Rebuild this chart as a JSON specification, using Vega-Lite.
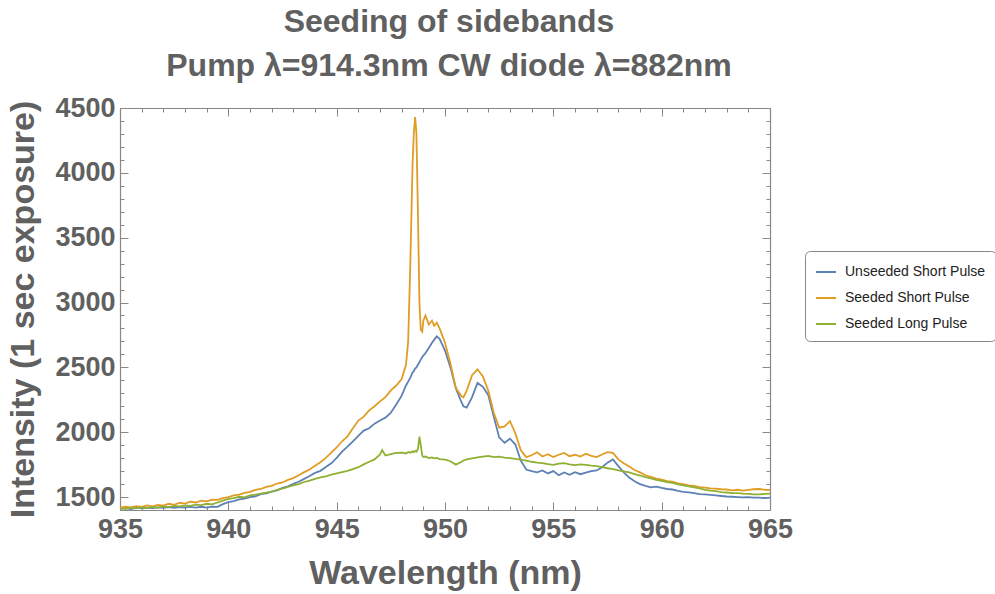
{
  "$schema": "https://vega.github.io/schema/vega-lite/v6.json",
  "width": 650,
  "height": 402,
  "autosize": "none",
  "padding": {"left": 120, "top": 108, "right": 225, "bottom": 84},
  "background": "white",
  "config": {"view": {"stroke": null}},
  "title": {
    "text": ["Seeding of sidebands", "Pump λ=914.3nm CW diode λ=882nm"],
    "font": "Liberation Sans",
    "fontSize": 32,
    "fontWeight": "bold",
    "color": "#606060",
    "lineHeight": 44,
    "anchor": "middle",
    "dx": 4,
    "offset": 11
  },
  "data": {
    "values": [
      {"wl": 935.00, "U": 1410, "S": 1418, "L": 1412},
      {"wl": 935.25, "U": 1415, "S": 1425, "L": 1408},
      {"wl": 935.50, "U": 1408, "S": 1420, "L": 1416},
      {"wl": 935.75, "U": 1416, "S": 1430, "L": 1412},
      {"wl": 936.00, "U": 1412, "S": 1424, "L": 1420},
      {"wl": 936.25, "U": 1418, "S": 1435, "L": 1415},
      {"wl": 936.50, "U": 1414, "S": 1428, "L": 1424},
      {"wl": 936.75, "U": 1420, "S": 1440, "L": 1419},
      {"wl": 937.00, "U": 1416, "S": 1434, "L": 1428},
      {"wl": 937.25, "U": 1422, "S": 1448, "L": 1422},
      {"wl": 937.50, "U": 1417, "S": 1440, "L": 1432},
      {"wl": 937.75, "U": 1423, "S": 1456, "L": 1428},
      {"wl": 938.00, "U": 1418, "S": 1450, "L": 1436},
      {"wl": 938.25, "U": 1424, "S": 1464, "L": 1432},
      {"wl": 938.50, "U": 1419, "S": 1458, "L": 1442},
      {"wl": 938.75, "U": 1425, "S": 1472, "L": 1438},
      {"wl": 939.00, "U": 1418, "S": 1466, "L": 1448},
      {"wl": 939.25, "U": 1426, "S": 1480, "L": 1444},
      {"wl": 939.50, "U": 1424, "S": 1478, "L": 1458},
      {"wl": 939.75, "U": 1445, "S": 1492, "L": 1472},
      {"wl": 940.00, "U": 1460, "S": 1500, "L": 1486},
      {"wl": 940.25, "U": 1468, "S": 1512, "L": 1492},
      {"wl": 940.50, "U": 1482, "S": 1518, "L": 1502},
      {"wl": 940.75, "U": 1488, "S": 1532, "L": 1498},
      {"wl": 941.00, "U": 1500, "S": 1540, "L": 1512},
      {"wl": 941.25, "U": 1506, "S": 1555, "L": 1518},
      {"wl": 941.50, "U": 1522, "S": 1562, "L": 1526},
      {"wl": 941.75, "U": 1528, "S": 1578, "L": 1534},
      {"wl": 942.00, "U": 1542, "S": 1586, "L": 1542},
      {"wl": 942.25, "U": 1552, "S": 1604, "L": 1556},
      {"wl": 942.50, "U": 1570, "S": 1612, "L": 1564},
      {"wl": 942.75, "U": 1582, "S": 1632, "L": 1578},
      {"wl": 943.00, "U": 1602, "S": 1646, "L": 1590},
      {"wl": 943.25, "U": 1618, "S": 1668, "L": 1600},
      {"wl": 943.50, "U": 1640, "S": 1692, "L": 1616},
      {"wl": 943.75, "U": 1662, "S": 1712, "L": 1626},
      {"wl": 944.00, "U": 1686, "S": 1742, "L": 1640},
      {"wl": 944.25, "U": 1702, "S": 1768, "L": 1652},
      {"wl": 944.50, "U": 1732, "S": 1802, "L": 1660},
      {"wl": 944.75, "U": 1760, "S": 1842, "L": 1672},
      {"wl": 945.00, "U": 1802, "S": 1882, "L": 1682},
      {"wl": 945.25, "U": 1850, "S": 1930, "L": 1692},
      {"wl": 945.50, "U": 1888, "S": 1968, "L": 1702},
      {"wl": 945.75, "U": 1930, "S": 2030, "L": 1716},
      {"wl": 946.00, "U": 1972, "S": 2090, "L": 1730},
      {"wl": 946.25, "U": 2012, "S": 2120, "L": 1752},
      {"wl": 946.50, "U": 2030, "S": 2168, "L": 1772},
      {"wl": 946.75, "U": 2066, "S": 2200, "L": 1790},
      {"wl": 947.00, "U": 2090, "S": 2238, "L": 1828},
      {"wl": 947.10, "U": 2100, "S": 2250, "L": 1862},
      {"wl": 947.25, "U": 2112, "S": 2270, "L": 1820},
      {"wl": 947.50, "U": 2150, "S": 2322, "L": 1830},
      {"wl": 947.75, "U": 2214, "S": 2360, "L": 1840},
      {"wl": 948.00, "U": 2282, "S": 2410, "L": 1842},
      {"wl": 948.20, "U": 2360, "S": 2520, "L": 1836},
      {"wl": 948.30, "U": 2390, "S": 2700, "L": 1848},
      {"wl": 948.40, "U": 2420, "S": 3300, "L": 1842},
      {"wl": 948.50, "U": 2460, "S": 4050, "L": 1852},
      {"wl": 948.56, "U": 2470, "S": 4300, "L": 1846},
      {"wl": 948.62, "U": 2490, "S": 4430, "L": 1856},
      {"wl": 948.68, "U": 2500, "S": 4310, "L": 1850},
      {"wl": 948.75, "U": 2520, "S": 3700, "L": 1870},
      {"wl": 948.82, "U": 2540, "S": 3000, "L": 1966},
      {"wl": 948.88, "U": 2560, "S": 2790, "L": 1900},
      {"wl": 948.95, "U": 2580, "S": 2775, "L": 1820},
      {"wl": 949.00, "U": 2590, "S": 2860, "L": 1808},
      {"wl": 949.10, "U": 2610, "S": 2900, "L": 1812},
      {"wl": 949.25, "U": 2650, "S": 2830, "L": 1800},
      {"wl": 949.40, "U": 2690, "S": 2860, "L": 1806},
      {"wl": 949.50, "U": 2712, "S": 2820, "L": 1798},
      {"wl": 949.62, "U": 2740, "S": 2845, "L": 1802},
      {"wl": 949.75, "U": 2720, "S": 2800, "L": 1792},
      {"wl": 950.00, "U": 2630, "S": 2690, "L": 1788},
      {"wl": 950.25, "U": 2500, "S": 2530, "L": 1776},
      {"wl": 950.50, "U": 2340, "S": 2340, "L": 1750},
      {"wl": 950.75, "U": 2235, "S": 2280, "L": 1770},
      {"wl": 950.85, "U": 2200, "S": 2268, "L": 1782},
      {"wl": 951.00, "U": 2190, "S": 2320, "L": 1790},
      {"wl": 951.25, "U": 2270, "S": 2440, "L": 1798},
      {"wl": 951.50, "U": 2380, "S": 2485, "L": 1806},
      {"wl": 951.75, "U": 2350, "S": 2430, "L": 1812},
      {"wl": 952.00, "U": 2285, "S": 2320, "L": 1818},
      {"wl": 952.25, "U": 2120, "S": 2150, "L": 1808},
      {"wl": 952.50, "U": 1960, "S": 2035, "L": 1812},
      {"wl": 952.75, "U": 1918, "S": 2045, "L": 1804},
      {"wl": 953.00, "U": 1950, "S": 2085, "L": 1800},
      {"wl": 953.25, "U": 1905, "S": 1990, "L": 1795},
      {"wl": 953.50, "U": 1780, "S": 1860, "L": 1788},
      {"wl": 953.75, "U": 1712, "S": 1808, "L": 1780},
      {"wl": 954.00, "U": 1700, "S": 1822, "L": 1772},
      {"wl": 954.25, "U": 1690, "S": 1845, "L": 1766},
      {"wl": 954.50, "U": 1705, "S": 1812, "L": 1762},
      {"wl": 954.75, "U": 1682, "S": 1830, "L": 1754},
      {"wl": 955.00, "U": 1700, "S": 1808, "L": 1748},
      {"wl": 955.25, "U": 1668, "S": 1826, "L": 1758},
      {"wl": 955.50, "U": 1690, "S": 1840, "L": 1762},
      {"wl": 955.75, "U": 1672, "S": 1815, "L": 1752},
      {"wl": 956.00, "U": 1692, "S": 1826, "L": 1746},
      {"wl": 956.25, "U": 1676, "S": 1812, "L": 1752},
      {"wl": 956.50, "U": 1688, "S": 1834, "L": 1748},
      {"wl": 956.75, "U": 1700, "S": 1818, "L": 1742},
      {"wl": 957.00, "U": 1705, "S": 1808, "L": 1738},
      {"wl": 957.25, "U": 1730, "S": 1828, "L": 1730},
      {"wl": 957.50, "U": 1765, "S": 1846, "L": 1722},
      {"wl": 957.75, "U": 1790, "S": 1840, "L": 1716},
      {"wl": 958.00, "U": 1738, "S": 1790, "L": 1706},
      {"wl": 958.25, "U": 1690, "S": 1760, "L": 1698},
      {"wl": 958.50, "U": 1650, "S": 1735, "L": 1690},
      {"wl": 958.75, "U": 1622, "S": 1708, "L": 1676},
      {"wl": 959.00, "U": 1600, "S": 1690, "L": 1666},
      {"wl": 959.25, "U": 1586, "S": 1668, "L": 1654},
      {"wl": 959.50, "U": 1575, "S": 1656, "L": 1644},
      {"wl": 959.75, "U": 1580, "S": 1642, "L": 1632},
      {"wl": 960.00, "U": 1570, "S": 1635, "L": 1624},
      {"wl": 960.25, "U": 1562, "S": 1622, "L": 1616},
      {"wl": 960.50, "U": 1558, "S": 1618, "L": 1610},
      {"wl": 960.75, "U": 1548, "S": 1606, "L": 1598},
      {"wl": 961.00, "U": 1540, "S": 1600, "L": 1590},
      {"wl": 961.25, "U": 1536, "S": 1590, "L": 1582},
      {"wl": 961.50, "U": 1530, "S": 1586, "L": 1574},
      {"wl": 961.75, "U": 1522, "S": 1576, "L": 1566},
      {"wl": 962.00, "U": 1520, "S": 1572, "L": 1556},
      {"wl": 962.25, "U": 1516, "S": 1566, "L": 1550},
      {"wl": 962.50, "U": 1512, "S": 1565, "L": 1546},
      {"wl": 962.75, "U": 1508, "S": 1560, "L": 1538},
      {"wl": 963.00, "U": 1504, "S": 1558, "L": 1535},
      {"wl": 963.25, "U": 1502, "S": 1552, "L": 1530},
      {"wl": 963.50, "U": 1500, "S": 1556, "L": 1530},
      {"wl": 963.75, "U": 1498, "S": 1550, "L": 1526},
      {"wl": 964.00, "U": 1500, "S": 1556, "L": 1524},
      {"wl": 964.25, "U": 1496, "S": 1560, "L": 1520},
      {"wl": 964.50, "U": 1495, "S": 1562, "L": 1520},
      {"wl": 964.75, "U": 1492, "S": 1556, "L": 1524},
      {"wl": 965.00, "U": 1496, "S": 1554, "L": 1526}
    ]
  },
  "transform": [{"fold": ["U", "S", "L"], "as": ["series", "intensity"]}],
  "layer": [
    {
      "mark": {"type": "line", "strokeWidth": 1.8, "clip": true},
      "encoding": {
        "x": {
          "field": "wl", "type": "quantitative",
          "scale": {"domain": [935, 965], "nice": false, "zero": false},
          "axis": {
            "orient": "bottom",
            "values": [935,936,937,938,939,940,941,942,943,944,945,946,947,948,949,950,951,952,953,954,955,956,957,958,959,960,961,962,963,964,965],
            "labelExpr": "datum.value % 5 === 0 ? datum.label : ''",
            "tickSize": {"condition": {"test": "datum.value % 5 === 0", "value": -8}, "value": -4},
            "tickColor": "#888888", "domainColor": "#888888", "domainWidth": 1.2,
            "grid": false,
            "labelFont": "Liberation Sans", "labelFontSize": 27, "labelFontWeight": "bold", "labelColor": "#606060",
            "labelPadding": 14, "labelFlush": false, "labelOverlap": false,
            "title": "Wavelength (nm)",
            "titleFont": "Liberation Sans", "titleFontSize": 34, "titleFontWeight": "bold", "titleColor": "#606060",
            "titlePadding": 10
          }
        },
        "y": {
          "field": "intensity", "type": "quantitative",
          "scale": {"domain": [1400, 4500], "nice": false, "zero": false},
          "axis": {
            "orient": "left",
            "values": [1400,1500,1600,1700,1800,1900,2000,2100,2200,2300,2400,2500,2600,2700,2800,2900,3000,3100,3200,3300,3400,3500,3600,3700,3800,3900,4000,4100,4200,4300,4400,4500],
            "labelExpr": "datum.value % 500 === 0 ? datum.label : ''",
            "format": "d",
            "tickSize": {"condition": {"test": "datum.value % 500 === 0", "value": -8}, "value": -4},
            "tickColor": "#888888", "domainColor": "#888888", "domainWidth": 1.2,
            "grid": false,
            "labelFont": "Liberation Sans", "labelFontSize": 27, "labelFontWeight": "bold", "labelColor": "#606060",
            "labelPadding": 13, "labelFlush": false, "labelOverlap": false,
            "title": "Intensity (1 sec exposure)",
            "titleFont": "Liberation Sans", "titleFontSize": 34, "titleFontWeight": "bold", "titleColor": "#606060",
            "titlePadding": 14
          }
        },
        "color": {
          "field": "series", "type": "nominal",
          "scale": {"domain": ["U", "S", "L"], "range": ["#5E81B5", "#E19C24", "#8FB032"]},
          "legend": {
            "orient": "none", "legendX": 685, "legendY": 143,
            "title": null,
            "labelExpr": "datum.label === 'U' ? 'Unseeded Short Pulse' : datum.label === 'S' ? 'Seeded Short Pulse' : 'Seeded Long Pulse'",
            "symbolType": "stroke", "symbolSize": 400, "symbolStrokeWidth": 2,
            "labelFont": "Liberation Sans", "labelFontSize": 14, "labelColor": "#222222",
            "labelOffset": 8, "rowPadding": 8, "padding": 10,
            "strokeColor": "#888888", "cornerRadius": 5, "fillColor": "white"
          }
        }
      }
    },
    {
      "mark": {"type": "line", "opacity": 0},
      "encoding": {
        "x": {
          "field": "wl", "type": "quantitative",
          "scale": {"domain": [935, 965], "nice": false, "zero": false},
          "axis": {
            "orient": "top",
            "values": [935,936,937,938,939,940,941,942,943,944,945,946,947,948,949,950,951,952,953,954,955,956,957,958,959,960,961,962,963,964,965],
            "labels": false, "title": null, "grid": false,
            "tickSize": {"condition": {"test": "datum.value % 5 === 0", "value": -8}, "value": -4},
            "tickColor": "#888888", "domainColor": "#888888", "domainWidth": 1.2
          }
        },
        "y": {
          "field": "intensity", "type": "quantitative",
          "scale": {"domain": [1400, 4500], "nice": false, "zero": false},
          "axis": {
            "orient": "right",
            "values": [1400,1500,1600,1700,1800,1900,2000,2100,2200,2300,2400,2500,2600,2700,2800,2900,3000,3100,3200,3300,3400,3500,3600,3700,3800,3900,4000,4100,4200,4300,4400,4500],
            "labels": false, "title": null, "grid": false,
            "tickSize": {"condition": {"test": "datum.value % 500 === 0", "value": -8}, "value": -4},
            "tickColor": "#888888", "domainColor": "#888888", "domainWidth": 1.2
          }
        }
      }
    }
  ],
  "resolve": {"axis": {"x": "independent", "y": "independent"}}
}
